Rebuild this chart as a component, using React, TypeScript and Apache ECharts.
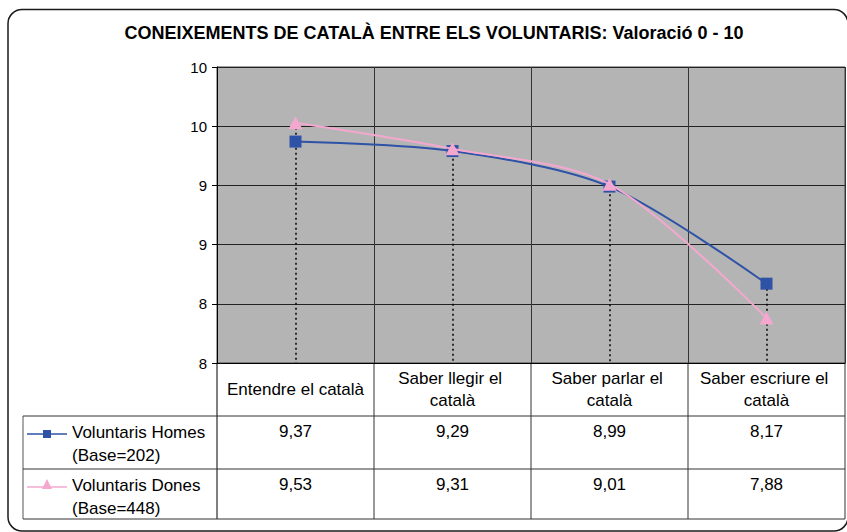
import React, { useEffect, useRef } from "react";
import * as echarts from "echarts";

const TITLE = "CONEIXEMENTS DE CATALÀ ENTRE ELS VOLUNTARIS: Valoració 0 - 10";
const categories = [
  "Entendre el català",
  "Saber llegir el català",
  "Saber parlar el català",
  "Saber escriure el català",
];
const seriesNames = ["Voluntaris Homes", "Voluntaris Dones"];
const bases = [202, 448];
const homes = [9.37, 9.29, 8.99, 8.17];
const dones = [9.53, 9.31, 9.01, 7.88];
const yMin = 7.5;
const yMax = 10;
const yStep = 0.5;

const FONT = "'Liberation Sans', Arial, sans-serif";
const BLUE = "#2E52A6";
const PINK = "#F4A8CF";

export default function App() {
  const ref = useRef<HTMLDivElement>(null);

  useEffect(() => {
    document.body.style.margin = "0";
    const chart = echarts.init(ref.current!, null, { renderer: "svg" });

    const gridLeft = 217;
    const gridTop = 67;
    const gridW = 628;
    const gridH = 296;
    const gridBottom = gridTop + gridH;

    const dropData = categories.map((_, i) => [
      { coord: [i, Math.max(homes[i], dones[i])] },
      { coord: [i, yMin] },
    ]);

    chart.setOption({
      animation: false,
      textStyle: { fontFamily: FONT },
      grid: {
        left: gridLeft,
        top: gridTop,
        width: gridW,
        height: gridH,
        show: true,
        backgroundColor: "#B4B4B4",
        borderColor: "#444",
        borderWidth: 1,
      },
      xAxis: {
        type: "category",
        data: categories,
        boundaryGap: true,
        axisLine: { show: true, lineStyle: { color: "#000", width: 1 } },
        axisTick: { show: false },
        splitLine: { show: true, lineStyle: { color: "#333", width: 1 } },
        axisLabel: {
          interval: 0,
          margin: 26,
          verticalAlign: "middle",
          lineHeight: 22,
          width: 145,
          overflow: "break",
          fontSize: 17,
          color: "#000",
          fontFamily: FONT,
        },
      },
      yAxis: {
        type: "value",
        min: yMin,
        max: yMax,
        interval: yStep,
        axisLine: { show: true, lineStyle: { color: "#000", width: 1 } },
        axisTick: { show: true, inside: false, length: 5, lineStyle: { color: "#000" } },
        splitLine: { show: true, lineStyle: { color: "#222", width: 1 } },
        axisLabel: {
          fontSize: 15,
          color: "#000",
          margin: 10,
          fontFamily: FONT,
          formatter: (v: number) => String(Math.round(v)),
        },
      },
      series: [
        {
          name: seriesNames[0],
          type: "line",
          data: homes,
          smooth: 0.3,
          symbol: "rect",
          symbolSize: 12,
          itemStyle: { color: BLUE },
          lineStyle: { color: BLUE, width: 2 },
          z: 3,
          markLine: {
            silent: true,
            symbol: ["none", "none"],
            label: { show: false },
            lineStyle: { color: "#000", type: [2, 3], width: 1.5 },
            data: dropData,
            z: 1,
          },
        },
        {
          name: seriesNames[1],
          type: "line",
          data: dones,
          smooth: 0.3,
          symbol: "triangle",
          symbolSize: [14, 13],
          itemStyle: { color: PINK },
          lineStyle: { color: PINK, width: 2 },
          z: 4,
        },
      ],
    });

    // Data table built from the axis positions
    const centers = categories.map(
      (_, i) => chart.convertToPixel({ xAxisIndex: 0 }, i) as number
    );
    const band = centers.length > 1 ? centers[1] - centers[0] : gridW;
    const right = centers[centers.length - 1] + band / 2;
    const rowH = 53;
    const row1Top = 416;
    const tableLeft = 23;
    const tableBottom = row1Top + rowH * 2 - 3;
    const rowTops = [row1Top, row1Top + rowH];

    const lineStyle = (c: string) => ({ stroke: c, lineWidth: 1 });
    const g: any[] = [];

    g.push({
      type: "rect",
      shape: { x: 8, y: 9.5, width: 840, height: 521.5, r: 14 },
      style: { fill: "none", stroke: "#1a1a1a", lineWidth: 1.5 },
      silent: true,
    });
    g.push({
      type: "text",
      x: 434,
      y: 33,
      style: {
        text: TITLE,
        fontSize: 18,
        fontWeight: "bold",
        fontFamily: FONT,
        fill: "#000",
        align: "center",
        verticalAlign: "middle",
      },
    });

    // vertical table lines
    g.push({
      type: "line",
      shape: { x1: gridLeft, y1: gridBottom, x2: gridLeft, y2: tableBottom },
      style: lineStyle("#000"),
    });
    for (let k = 1; k <= centers.length; k++) {
      const x = centers[0] - band / 2 + k * band;
      g.push({
        type: "line",
        shape: { x1: x, y1: gridBottom, x2: x, y2: tableBottom },
        style: lineStyle("#333"),
      });
    }
    g.push({
      type: "line",
      shape: { x1: tableLeft, y1: row1Top, x2: tableLeft, y2: tableBottom },
      style: lineStyle("#555"),
    });
    // horizontal table lines
    [row1Top, row1Top + rowH, tableBottom].forEach((y) => {
      g.push({
        type: "line",
        shape: { x1: tableLeft, y1: y, x2: right, y2: y },
        style: lineStyle("#333"),
      });
    });

    const rows = [homes, dones];
    const colors = [BLUE, PINK];
    rows.forEach((vals, r) => {
      const top = rowTops[r];
      vals.forEach((v, i) => {
        g.push({
          type: "text",
          x: centers[i],
          y: top + 15,
          style: {
            text: v.toFixed(2).replace(".", ","),
            fontSize: 17,
            fontFamily: FONT,
            fill: "#000",
            align: "center",
            verticalAlign: "middle",
          },
        });
      });
      const ky = top + 18;
      g.push({
        type: "line",
        shape: { x1: 27, y1: ky, x2: 67, y2: ky },
        style: { stroke: colors[r], lineWidth: 1.5 },
      });
      if (r === 0) {
        g.push({
          type: "rect",
          shape: { x: 43, y: ky - 4, width: 8, height: 8 },
          style: { fill: BLUE },
        });
      } else {
        g.push({
          type: "polygon",
          shape: { points: [[47, ky - 8], [42, ky + 2], [52, ky + 2]] },
          style: { fill: PINK },
        });
      }
      g.push({
        type: "text",
        x: 72,
        y: top + 5,
        style: {
          text: `${seriesNames[r]}\n(Base=${bases[r]})`,
          fontSize: 17,
          lineHeight: 23,
          fontFamily: FONT,
          fill: "#000",
          align: "left",
          verticalAlign: "top",
        },
      });
    });

    chart.setOption({ graphic: { elements: g } });

    return () => chart.dispose();
  }, []);

  return <div ref={ref} style={{ width: 847, height: 532 }} />;
}
